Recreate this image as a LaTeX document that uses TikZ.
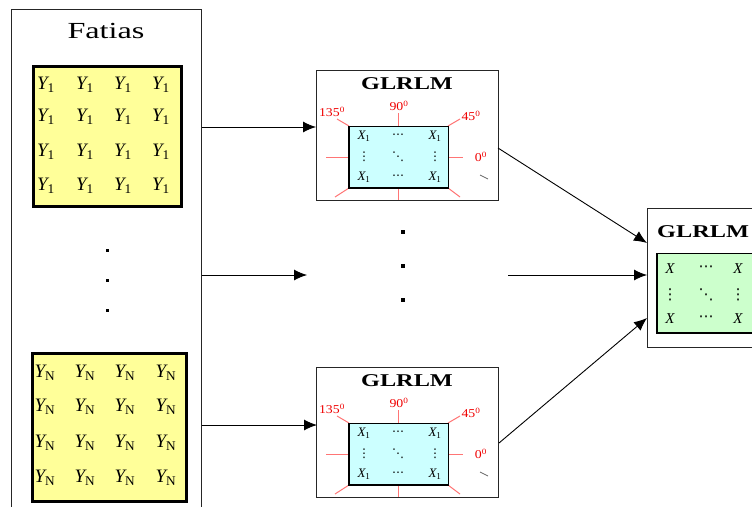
\documentclass[tikz,border=0pt]{standalone}
\usepackage{fontspec}
\setmainfont{Liberation Serif}
\newfontfamily\dotsfont{DejaVu Sans}
\usepackage{graphicx}
\usetikzlibrary{arrows.meta}
\definecolor{yel}{HTML}{FFFF99}
\definecolor{cy}{HTML}{CCFFFF}
\definecolor{gr}{HTML}{CCFFCC}
\definecolor{rl}{HTML}{FF7575}
\definecolor{rt}{HTML}{F00000}
\tikzset{
  frame/.style={draw=black!85, line width=1pt, fill=white, inner sep=0pt},
  arr/.style={-{Latex[length=13pt,width=11pt]}, line width=0.9pt},
  yent/.style={inner sep=0pt, font=\fontsize{19}{19}\selectfont},
  xent/.style={inner sep=0pt, font=\fontsize{13}{13}\selectfont},
  xdot/.style={inner sep=0pt, font=\fontsize{12}{12}\dotsfont},
  gent/.style={inner sep=0pt, font=\fontsize{15}{15}\selectfont},
  gdot/.style={inner sep=0pt, font=\fontsize{15}{15}\dotsfont},
  ang/.style={inner sep=0pt, text=rt, font=\fontsize{12}{12}\selectfont},
  ray/.style={draw=rl, line width=1pt},
  title/.style={inner sep=0pt, font=\fontsize{18}{18}\selectfont\bfseries},
  dotmark/.style={fill=black, inner sep=0pt, minimum size=3.5pt, rectangle}
}
\newcommand\YY[1]{{\itshape Y}\textsubscript{#1}}
\newcommand\XX[1]{{\itshape X}\textsubscript{#1}}
\newcommand\glrlmbox[1]{%
  \node[frame, minimum width=182pt, minimum height=130pt, anchor=north west] (#1) at (316,70) {};
  \node[title] (#1-t) at (407,84) {\scalebox{1.35}[1]{GLRLM}};
  \draw[ray] (349,126) -- (337,119);
  \draw[ray] (398.5,126) -- (398.5,113);
  \draw[ray] (448,126) -- (460,119);
  \draw[ray] (349,157) -- (326,157);
  \draw[ray] (448,157) -- (463,157);
  \draw[ray] (349,188) -- (335,197);
  \draw[ray] (398.5,188) -- (398.5,200);
  \draw[ray] (448,188) -- (460,197);
  \draw[black!60, line width=0.8pt] (480,175) -- (488,179);
  \node[ang] (#1-a135) at (332,112) {\scalebox{1.15}[1]{135\textsuperscript{0}}};
  \node[ang] (#1-a90) at (399,106) {\scalebox{1.15}[1]{90\textsuperscript{0}}};
  \node[ang] (#1-a45) at (471,116) {\scalebox{1.15}[1]{45\textsuperscript{0}}};
  \node[ang] (#1-a0) at (481,157) {\scalebox{1.15}[1]{0\textsuperscript{0}}};
  \node[draw=black, line width=1pt, fill=cy, minimum width=99pt, minimum height=62pt, anchor=north west, inner sep=0pt] (#1-m) at (349,126) {};
  \draw[line width=2.2pt] (349,126) -- (349,188) -- (448,188);
  \node[xent] (#1-11) at (364,136) {\XX{1}};
  \node[xdot] (#1-12) at (398,136) {⋯};
  \node[xent] (#1-13) at (435,136) {\XX{1}};
  \node[xdot] (#1-21) at (364,157) {⋮};
  \node[xdot] (#1-22) at (398,157) {⋱};
  \node[xdot] (#1-23) at (435,157) {⋮};
  \node[xent] (#1-31) at (364,177) {\XX{1}};
  \node[xdot] (#1-32) at (398,177) {⋯};
  \node[xent] (#1-33) at (435,177) {\XX{1}};
}
\begin{document}
\begin{tikzpicture}[x=1pt,y=-1pt]
\useasboundingbox (0,0) rectangle (752,506);
\clip (0,0) rectangle (752,506);
\fill[white] (0,0) rectangle (752,506);

% left frame
\node[frame, minimum width=190pt, minimum height=520pt, anchor=north west] (fat) at (11,9) {};
\node[inner sep=0pt, font=\fontsize{23}{23}\selectfont] (fat-t) at (106,31) {\scalebox{1.4}[1]{Fatias}};

% first slice
\node[draw=black, line width=2.5pt, fill=yel, minimum width=148pt, minimum height=140pt, anchor=north west, inner sep=0pt] (y1) at (32,65) {};
\foreach \c [count=\j] in {46,85,123,161}{
  \foreach \r [count=\i] in {85,117,152,186}{
    \node[yent] (y1-\i-\j) at (\c,\r) {\YY{1}};
  }
}
% dots
\node[dotmark, minimum size=3pt] (d1) at (107,250) {};
\node[dotmark, minimum size=3pt] (d2) at (107,280) {};
\node[dotmark, minimum size=3pt] (d3) at (107,310) {};

% last slice
\node[draw=black, line width=2.5pt, fill=yel, minimum width=154pt, minimum height=148pt, anchor=north west, inner sep=0pt] (y2) at (31,352) {};
\foreach \c [count=\j] in {45,85,125,166}{
  \foreach \r [count=\i] in {373,407,443,478}{
    \node[yent] (y2-\i-\j) at (\c,\r) {\YY{N}};
  }
}

% GLRLM boxes
\glrlmbox{g1}
\begin{scope}[yshift=-297pt]
\glrlmbox{g2}
\end{scope}

% middle dots
\node[dotmark, minimum size=4pt] (m1) at (403,232) {};
\node[dotmark, minimum size=4pt] (m2) at (403,266) {};
\node[dotmark, minimum size=4pt] (m3) at (403,300) {};

% final box
\node[frame, minimum width=160pt, minimum height=139pt, anchor=north west] (fin) at (647,208) {};
\node[title, anchor=west] (fin-t) at (657,232) {\scalebox{1.35}[1]{GLRLM}};
\node[draw=black, line width=1pt, fill=gr, minimum width=150pt, minimum height=80pt, anchor=north west, inner sep=0pt] (fin-m) at (657,253) {};
\draw[line width=2.2pt] (657,253) -- (657,333) -- (760,333);
\node[gent] (f11) at (670,269) {\itshape X};
\node[gdot] (f12) at (706,269) {⋯};
\node[gent] (f13) at (738,269) {\itshape X};
\node[gdot] (f21) at (670,295) {⋮};
\node[gdot] (f22) at (706,295) {⋱};
\node[gdot] (f23) at (738,295) {⋮};
\node[gent] (f31) at (670,319) {\itshape X};
\node[gdot] (f32) at (706,319) {⋯};
\node[gent] (f33) at (738,319) {\itshape X};

% connector end points
\coordinate (a1) at (316,127);
\coordinate (a2) at (307,275);
\coordinate (a3) at (317,425);
\coordinate (b1) at (498,148);
\coordinate (b2) at (508,275);
\coordinate (b3) at (499,443);
\coordinate (c1) at (647,243);
\coordinate (c2) at (647,275);
\coordinate (c3) at (647,318);

\draw[arr] (fat.east |- a1) -- (a1);
\draw[arr] (fat.east |- a2) -- (a2);
\draw[arr] (fat.east |- a3) -- (a3);
\draw[arr] (b1) -- (c1);
\draw[arr] (b2) -- (c2);
\draw[arr] (b3) -- (c3);
\end{tikzpicture}
\end{document}
